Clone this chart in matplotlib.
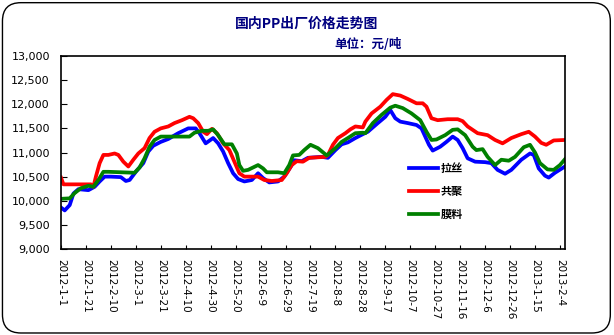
import matplotlib
matplotlib.use('Agg')
import matplotlib.pyplot as plt
from matplotlib.patches import FancyBboxPatch
from matplotlib.ticker import FuncFormatter
import datetime as dt

plt.rcParams['font.family'] = ['Noto Sans CJK SC', 'DejaVu Sans']

# day offsets from 2012-01-01 and prices (yuan/ton)
lasi_days = [0, 3, 7, 10, 14, 22, 27, 31, 35, 40, 48, 52, 55, 60, 66, 70, 74, 80,
             86, 94, 102, 108, 111, 116, 122, 126, 130, 134, 138, 142, 147, 153, 158,
             162, 167, 174, 179, 185, 187, 193, 198, 209, 214, 220, 225, 230, 236, 242,
             246, 254, 260, 264, 268, 272, 278, 285, 289, 292, 295, 298, 304, 309, 314,
             318, 322, 326, 332, 340, 345, 350, 356, 361, 369, 376, 379, 383, 388, 391,
             396, 404]
lasi_vals = [9860, 9800, 9910, 10150, 10240, 10220, 10290, 10400, 10500, 10500, 10490,
             10410, 10430, 10600, 10780, 11020, 11140, 11220, 11280, 11400, 11500, 11500,
             11400, 11190, 11300, 11190, 11020, 10780, 10570, 10450, 10400, 10430, 10570,
             10470, 10380, 10400, 10500, 10740, 10840, 10820, 10890, 10910, 10890, 11050,
             11170, 11210, 11300, 11380, 11430, 11610, 11740, 11880, 11710, 11640, 11610,
             11570, 11500, 11330, 11160, 11040, 11120, 11220, 11330, 11260, 11090, 10880,
             10810, 10800, 10780, 10640, 10560, 10640, 10850, 10980, 10950, 10670, 10520,
             10480, 10580, 10710]

gongju_days = [0, 2, 6, 24, 26, 28, 31, 34, 38, 43, 46, 50, 54, 58, 62, 67, 71, 75, 80,
               86, 91, 97, 103, 106, 110, 114, 117, 121, 125, 130, 135, 139, 143, 147,
               158, 163, 169, 177, 181, 185, 189, 194, 199, 212, 214, 218, 222, 228, 232,
               236, 242, 244, 249, 256, 261, 266, 272, 278, 285, 290, 293, 297, 302, 310,
               318, 322, 326, 334, 342, 348, 354, 361, 369, 375, 380, 385, 389, 395, 404]
gongju_vals = [10480, 10340, 10340, 10340, 10290, 10500, 10780, 10950, 10950, 10980,
               10950, 10810, 10710, 10850, 10980, 11090, 11300, 11430, 11500, 11540,
               11610, 11670, 11740, 11710, 11610, 11430, 11380, 11490, 11400, 11190,
               11050, 10810, 10570, 10500, 10500, 10430, 10410, 10430, 10570, 10740,
               10820, 10810, 10890, 10910, 10950, 11160, 11300, 11400, 11480, 11540,
               11520, 11640, 11810, 11950, 12090, 12210, 12180, 12110, 12020, 12020,
               11950, 11710, 11670, 11690, 11690, 11650, 11540, 11400, 11360, 11260,
               11190, 11300, 11380, 11430, 11330, 11200, 11160, 11250, 11260]

moliao_days = [0, 7, 11, 16, 22, 26, 30, 34, 38, 59, 63, 67, 71, 75, 80, 86, 103, 107,
               113, 118, 122, 126, 131, 137, 141, 143, 146, 150, 158, 162, 165, 174, 179,
               183, 186, 191, 195, 200, 206, 213, 215, 220, 225, 230, 236, 242, 244, 250,
               257, 264, 268, 274, 281, 288, 293, 297, 301, 308, 314, 318, 324, 330, 333,
               338, 342, 348, 353, 359, 364, 371, 376, 380, 384, 390, 395, 400, 404]
moliao_vals = [10040, 10050, 10160, 10260, 10310, 10290, 10430, 10600, 10600, 10580,
               10690, 10880, 11120, 11260, 11330, 11330, 11330, 11410, 11450, 11450,
               11480, 11360, 11170, 11170, 10980, 10740, 10620, 10640, 10740, 10670,
               10590, 10590, 10570, 10740, 10940, 10950, 11050, 11160, 11090, 10940,
               10980, 11090, 11220, 11300, 11400, 11410, 11400, 11610, 11780, 11930,
               11970, 11920, 11810, 11670, 11430, 11260, 11270, 11360, 11470, 11480,
               11360, 11120, 11050, 11070, 10910, 10740, 10850, 10830, 10910, 11110,
               11160, 11000, 10780, 10650, 10640, 10740, 10860]

start = dt.date(2012, 1, 1)
tick_days = list(range(0, 401, 20))
tick_labels = []
for d in tick_days:
    t = start + dt.timedelta(days=d)
    tick_labels.append(f'{t.year}-{t.month}-{t.day}')

fig = plt.figure(figsize=(6.14, 3.35), dpi=100)
fig.patch.set_facecolor('white')
border = FancyBboxPatch((0.004, 0.006), 0.990, 0.986,
                        boxstyle='round,pad=0,rounding_size=0.03',
                        transform=fig.transFigure, fill=False,
                        edgecolor='black', linewidth=1.0, mutation_aspect=614 / 335)
fig.patches.append(border)

ax = fig.add_axes([0.0993, 0.2567, 0.8208, 0.5761])
ax.plot(lasi_days, lasi_vals, color='#0000FF', lw=2.7, label='拉丝')
ax.plot(gongju_days, gongju_vals, color='#FF0000', lw=2.7, label='共聚')
ax.plot(moliao_days, moliao_vals, color='#008000', lw=2.7, label='膜料')

ax.set_xlim(0, 404)
ax.set_ylim(9000, 13000)
ax.set_yticks(range(9000, 13001, 500))
ax.yaxis.set_major_formatter(FuncFormatter(lambda v, p: f'{int(v):,}'))
ax.set_xticks(tick_days)
ax.set_xticklabels(tick_labels, rotation=-90, family='DejaVu Sans', fontsize=7.5)
for lab in ax.get_yticklabels():
    lab.set_family('DejaVu Sans')
ax.tick_params(axis='y', direction='in', length=4, labelsize=8, pad=8)
ax.tick_params(axis='x', direction='in', length=3, pad=7)
for s in ax.spines.values():
    s.set_linewidth(1.2)

leg = ax.legend(loc='upper left', bbox_to_anchor=(0.67, 0.505), frameon=False,
                handlelength=2.6, labelspacing=0.9, handletextpad=0.3,
                prop={'family': 'Noto Sans CJK SC', 'weight': 'bold', 'size': 8})

fig.text(0.5, 0.928, '国内PP出厂价格走势图', ha='center', va='center',
         color='#000080', fontsize=10, fontweight='bold')
fig.text(0.6, 0.868, '单位：元/吨', ha='center', va='center',
         color='#000080', fontsize=9, fontweight='bold')

fig.savefig('out.png', dpi=100)
